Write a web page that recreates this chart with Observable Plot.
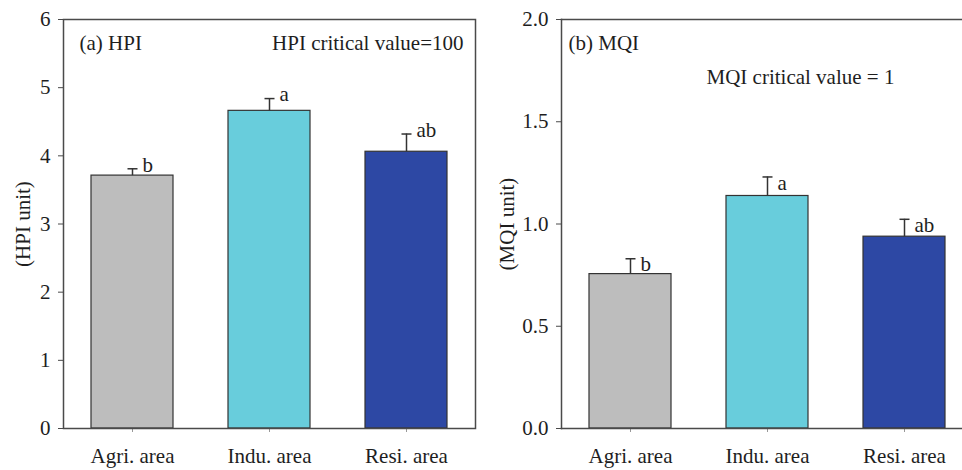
<!DOCTYPE html>
<html>
<head>
<meta charset="utf-8">
<script src="https://cdn.jsdelivr.net/npm/d3@7"></script>
<script src="https://cdn.jsdelivr.net/npm/@observablehq/plot@0.6"></script>
<style>
  html, body { margin: 0; padding: 0; background: #fff; overflow: hidden; }
  #wrap { width: 962px; height: 470px; position: relative; overflow: hidden; }
  #wrap svg { position: absolute; top: 0; max-width: none !important; }
</style>
</head>
<body>
<div id="wrap"></div>
<script>
const areas = ["Agri. area", "Indu. area", "Resi. area"];
const colors = ["#bdbdbd", "#68cddc", "#2d48a4"];
const hpiMean = [3.71, 4.66, 4.06];
const hpiErr = [0.10, 0.18, 0.26];
const hpiLetters = ["b", "a", "ab"];
const mqiMean = [0.755, 1.137, 0.938];
const mqiErr = [0.075, 0.093, 0.085];
const mqiLetters = ["b", "a", "ab"];
const hpiTicks = [0, 1, 2, 3, 4, 5, 6];
const mqiTicks = [0, 0.5, 1.0, 1.5, 2.0];
const panelTitles = ["(a) HPI", "(b) MQI"];
const criticalNotes = ["HPI critical value=100", "MQI critical value = 1"];
const yLabels = ["(HPI unit)", "(MQI unit)"];

const FONT = "'Liberation Serif', 'DejaVu Serif', serif";
const INK = "#1e1e1e";
const LINE = "#4a4a4a";
const FS = 21;

const capSymbol = {
  draw(ctx, size) {
    const r = Math.sqrt(size / Math.PI);
    ctx.moveTo(-r, 0);
    ctx.lineTo(r, 0);
  }
};

function rows(means, errs, letters) {
  return areas.map((a, i) => ({area: a, mean: means[i], top: means[i] + errs[i], letter: letters[i], color: colors[i]}));
}

function panel({data, domain, ticks, fmt, title, note, ylabel, width, marginLeft, labelOffset, titleDx, noteAnchor, noteDx, noteDy, letterDy, openRight}) {
  const frames = openRight
    ? ["top", "left", "bottom"].map(anchor => Plot.frame({anchor, stroke: LINE, strokeWidth: 1.5}))
    : [Plot.frame({stroke: LINE, strokeWidth: 1.5})];
  return Plot.plot({
    width, height: 470,
    marginLeft, marginRight: 0, marginTop: 19, marginBottom: 42,
    style: {fontFamily: FONT, fontSize: FS + "px", color: INK, background: "#fff", overflow: "visible"},
    x: {domain: areas, paddingInner: 0.4, paddingOuter: 0.2, align: 0.5},
    y: {domain, ticks},
    marks: [
      Plot.barY(data, {x: "area", y: "mean", fill: "color", stroke: "#333", strokeWidth: 1.2}),
      Plot.ruleX(data, {x: "area", y1: "mean", y2: "top", stroke: "#333", strokeWidth: 1.5}),
      Plot.dot(data, {x: "area", y: "top", symbol: capSymbol, r: 5, stroke: "#333", strokeWidth: 1.5, fill: "none"}),
      Plot.text(data, {x: "area", y: "top", text: "letter", textAnchor: "start", dx: 10, dy: letterDy, fill: INK, fontSize: FS}),
      Plot.axisY({ticks, tickFormat: fmt, tickSize: 5, tickPadding: 8, stroke: LINE, fill: INK,
        label: ylabel, labelAnchor: "center", labelArrow: "none", labelOffset}),
      Plot.axisX({tickSize: 4, tickPadding: 16, stroke: "#999", fill: INK, label: null}),
      ...frames,
      Plot.text([title], {frameAnchor: "top-left", dx: titleDx, dy: 16, textAnchor: "start", lineAnchor: "top", fill: INK, fontSize: FS}),
      Plot.text([note], {frameAnchor: noteAnchor, dx: noteDx, dy: noteDy, textAnchor: noteAnchor === "top-right" ? "end" : "start", lineAnchor: "top", fill: INK, fontSize: FS})
    ]
  });
}

const wrap = document.getElementById("wrap");
const left = panel({
  data: rows(hpiMean, hpiErr, hpiLetters), domain: [0, 6], ticks: hpiTicks, fmt: d3.format("d"),
  title: panelTitles[0], note: criticalNotes[0], ylabel: yLabels[0],
  width: 475, marginLeft: 63, labelOffset: 48, titleDx: 16,
  noteAnchor: "top-right", noteDx: -12, noteDy: 16, letterDy: -4, openRight: false
});
left.style.left = "0px";
wrap.append(left);
const right = panel({
  data: rows(mqiMean, mqiErr, mqiLetters), domain: [0, 2], ticks: mqiTicks, fmt: d3.format(".1f"),
  title: panelTitles[1], note: criticalNotes[1], ylabel: yLabels[1],
  width: 493, marginLeft: 81, labelOffset: 62, titleDx: 7,
  noteAnchor: "top-left", noteDx: 145, noteDy: 50, letterDy: 6, openRight: true
});
right.style.left = "480px";
wrap.append(right);
</script>
</body>
</html>
